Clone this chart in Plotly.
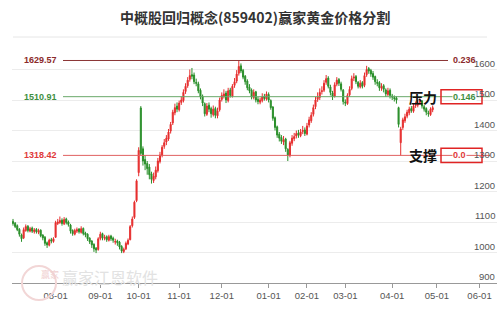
import plotly.graph_objects as go

# ---------------- data ----------------
opens = [1102,1096,1088,1076,1058,1048,1072,1086,1070,1080,
         1068,1076,1066,1073,1057,1050,1032,1024,1042,1036,
         1050,1095,1098,1106,1094,1110,1100,1090,1072,1060,
         1070,1077,1066,1079,1064,1060,1047,1038,1027,1014,
         1010,1046,1062,1046,1052,1040,1054,1047,1034,1038,
         1034,1020,1003,1012,1028,1042,1088,1115,1170,1262,
         1474,1340,1305,1292,1280,1258,1236,1248,1268,1298,
         1318,1348,1362,1372,1398,1425,1458,1480,1468,1492,
         1498,1528,1547,1568,1583,1582,1558,1553,1532,1512,
         1488,1453,1483,1472,1452,1472,1448,1468,1502,1512,
         1523,1498,1533,1512,1548,1562,1588,1612,1597,1578,
         1562,1542,1532,1508,1527,1502,1493,1498,1512,1503,
         1518,1498,1477,1442,1412,1388,1377,1362,1372,1338,
         1318,1358,1373,1382,1392,1383,1397,1402,1388,1418,
         1432,1453,1478,1502,1508,1528,1532,1558,1572,1543,
         1523,1512,1552,1567,1553,1532,1493,1488,1517,1538,
         1572,1577,1558,1543,1557,1548,1583,1603,1597,1587,
         1577,1558,1557,1538,1547,1533,1518,1532,1513,1508,
         1507,1475,1360,1410,1432,1447,1458,1472,1463,1482,
         1483,1492,1497,1478,1472,1458,1452,1468]
highs = [1110,1100,1092,1080,1062,1082,1092,1090,1084,1085,
         1080,1080,1078,1076,1060,1054,1036,1045,1048,1050,
         1104,1110,1118,1112,1116,1114,1105,1094,1076,1078,
         1082,1080,1086,1082,1068,1063,1050,1040,1030,1018,
         1050,1068,1065,1058,1056,1058,1058,1052,1045,1042,
         1038,1024,1016,1036,1046,1090,1118,1170,1240,1345,
         1480,1348,1318,1300,1290,1265,1262,1282,1310,1330,
         1352,1372,1385,1405,1428,1468,1488,1492,1498,1512,
         1535,1555,1575,1600,1605,1590,1570,1560,1538,1518,
         1492,1490,1492,1478,1482,1478,1475,1508,1525,1535,
         1530,1540,1540,1552,1572,1598,1630,1620,1602,1582,
         1568,1552,1538,1535,1530,1510,1508,1522,1520,1528,
         1525,1502,1480,1446,1416,1395,1385,1382,1376,1342,
         1366,1385,1392,1400,1402,1405,1415,1410,1425,1445,
         1460,1485,1510,1525,1538,1545,1565,1582,1578,1550,
         1530,1558,1575,1572,1560,1536,1502,1522,1545,1580,
         1588,1582,1562,1565,1562,1590,1612,1608,1602,1595,
         1580,1568,1562,1555,1552,1538,1540,1538,1520,1515,
         1512,1478,1412,1442,1455,1468,1478,1480,1488,1495,
         1500,1505,1500,1484,1476,1465,1476,1482]
lows = [1088,1080,1070,1052,1035,1044,1068,1066,1066,1064,
        1062,1062,1060,1050,1040,1022,1015,1020,1030,1032,
        1048,1090,1094,1088,1090,1092,1085,1062,1055,1056,
        1064,1062,1062,1056,1050,1038,1028,1015,1002,998,
        1006,1040,1040,1040,1035,1036,1038,1032,1026,1022,
        1010,998,998,1008,1024,1040,1082,1110,1165,1250,
        1318,1285,1270,1255,1240,1226,1228,1240,1262,1292,
        1312,1340,1352,1366,1390,1418,1450,1460,1462,1484,
        1492,1520,1540,1560,1568,1552,1545,1522,1502,1480,
        1446,1448,1460,1442,1446,1440,1440,1462,1495,1505,
        1490,1492,1508,1508,1540,1555,1580,1588,1568,1550,
        1532,1522,1502,1502,1492,1486,1486,1492,1498,1498,
        1492,1468,1432,1400,1376,1364,1356,1352,1330,1300,
        1312,1350,1365,1374,1376,1378,1388,1382,1384,1410,
        1425,1446,1470,1494,1500,1518,1526,1550,1538,1515,
        1500,1508,1545,1546,1528,1485,1480,1484,1510,1532,
        1562,1552,1538,1538,1538,1542,1576,1586,1576,1566,
        1550,1545,1530,1530,1525,1510,1512,1505,1500,1495,
        1488,1410,1318,1402,1425,1440,1450,1458,1458,1474,
        1476,1484,1472,1462,1450,1445,1448,1460]
closes = [1095,1085,1075,1060,1045,1075,1085,1072,1078,1070,
          1074,1068,1072,1055,1048,1030,1025,1040,1038,1045,
          1098,1100,1105,1095,1108,1098,1092,1070,1062,1072,
          1075,1068,1078,1062,1058,1045,1035,1025,1012,1008,
          1045,1060,1048,1050,1042,1052,1045,1040,1036,1032,
          1018,1005,1010,1030,1040,1085,1110,1165,1235,1335,
          1325,1300,1290,1275,1255,1240,1250,1270,1300,1320,
          1345,1360,1375,1395,1420,1460,1475,1470,1490,1500,
          1525,1545,1565,1580,1578,1560,1555,1530,1510,1490,
          1455,1480,1470,1455,1470,1450,1465,1500,1515,1520,
          1500,1530,1515,1545,1560,1585,1610,1595,1575,1560,
          1540,1530,1510,1525,1500,1495,1500,1510,1505,1520,
          1500,1475,1440,1410,1385,1375,1365,1370,1340,1320,
          1360,1375,1380,1390,1385,1395,1400,1390,1415,1435,
          1450,1475,1500,1510,1525,1530,1555,1570,1545,1525,
          1510,1550,1565,1555,1535,1495,1490,1515,1535,1570,
          1575,1560,1545,1555,1545,1580,1600,1595,1585,1575,
          1560,1555,1540,1545,1535,1520,1530,1515,1510,1505,
          1500,1420,1405,1435,1445,1460,1470,1465,1480,1485,
          1490,1495,1480,1470,1460,1455,1470,1475]

# trading-day positions of month starts and their labels
tick_pos = [20, 41, 59, 78, 98, 120, 138, 156, 178, 199, 219]
tick_text = ["08-01", "09-01", "10-01", "11-01", "12-01", "01-01",
             "02-01", "03-01", "04-01", "05-01", "06-01"]
y_ticks = [900, 1000, 1100, 1200, 1300, 1400, 1500, 1600]

# golden-section levels
levels = [1629.57, 1510.91, 1318.42]
level_labels = ["1629.57", "1510.91", "1318.42"]
ratio_labels = ["0.236", "0.146", "0.0"]
level_colors = ["#8b2a2a", "#3f8f3f", "#e03a3a"]
line_colors = ["#8b3535", "#6aa86a", "#e06060"]
side_words = {1: "压力", 2: "支撑"}

title = "中概股回归概念(859402)赢家黄金价格分割"

# ---------------- figure ----------------
W, H = 499, 309
ML, MR, MT, MB = 12, 2, 57, 26
PW = W - ML - MR
PH = H - MT - MB

def px(xp):
    return (xp - ML) / PW

def py(yp):
    return (H - MB - yp) / PH

fig = go.Figure()
fig.add_trace(go.Candlestick(
    x=list(range(len(closes))), open=opens, high=highs, low=lows, close=closes,
    increasing=dict(line=dict(color="#e62e2e", width=1), fillcolor="#e62e2e"),
    decreasing=dict(line=dict(color="#2a8f2a", width=1), fillcolor="#2a8f2a"),
    whiskerwidth=0, showlegend=False, hoverinfo="skip",
))

shapes = []
annotations = []

# separator under title
shapes.append(dict(type="line", xref="paper", yref="paper",
                   x0=px(13), x1=px(487), y0=py(37), y1=py(37),
                   line=dict(color="#e6e6e6", width=1)))

# y-axis labels drawn inside, right-aligned, just above each grid line
for v in y_ticks:
    annotations.append(dict(xref="paper", yref="y", x=px(497), y=v, text=str(v),
                            showarrow=False, xanchor="right", yanchor="bottom", yshift=-1,
                            font=dict(family="Liberation Sans", size=9.5, color="#555")))

lab_font = "Liberation Sans"
for k, (lv, lab, rl, lc, lnc) in enumerate(zip(levels, level_labels, ratio_labels,
                                                level_colors, line_colors)):
    x_end = 448 if k == 0 else 490
    shapes.append(dict(type="line", xref="paper", yref="y",
                       x0=px(63), x1=px(x_end), y0=lv, y1=lv,
                       line=dict(color=lnc, width=1)))
    annotations.append(dict(xref="paper", yref="y", x=px(59), y=lv, text="<b>" + lab + "</b>",
                            showarrow=False, xanchor="right", yanchor="middle",
                            font=dict(family=lab_font, size=9, color=lc)))
    if k == 0:
        annotations.append(dict(xref="paper", yref="y", x=px(451), y=lv, text="<b>" + rl + "</b>",
                                showarrow=False, xanchor="left", yanchor="middle",
                                font=dict(family=lab_font, size=9, color=lc)))
    else:
        shapes.append(dict(type="rect", xref="paper", yref="y",
                           x0=px(441), x1=px(482), y0=lv - 23, y1=lv + 23,
                           line=dict(color="#e02424", width=1.5), fillcolor="rgba(0,0,0,0)"))
        annotations.append(dict(xref="paper", yref="y", x=px(452), y=lv, text="<b>" + rl + "</b>",
                                showarrow=False, xanchor="left", yanchor="middle",
                                bgcolor="white", borderpad=0,
                                font=dict(family=lab_font, size=9, color=lc)))
        annotations.append(dict(xref="paper", yref="y", x=px(423), y=lv, text="<b>" + side_words[k] + "</b>",
                                showarrow=False, xanchor="center", yanchor="middle",
                                font=dict(family="Noto Sans CJK SC", size=14, color="#111")))

# title
annotations.append(dict(xref="paper", yref="paper", x=0.5, y=py(17), text="<b>" + title + "</b>",
                        showarrow=False, xanchor="center", yanchor="middle",
                        font=dict(family="Noto Sans CJK SC", size=14, color="#333")))

# watermark
shapes.append(dict(type="circle", xref="paper", yref="paper",
                   x0=px(22), x1=px(56), y0=py(300), y1=py(266),
                   line=dict(color="#f2d6d6", width=2), fillcolor="rgba(0,0,0,0)"))
annotations.append(dict(xref="paper", yref="paper", x=px(39), y=py(283), text="赢家",
                        showarrow=False, font=dict(family="Noto Sans CJK SC", size=9, color="#f0d0d0")))
annotations.append(dict(xref="paper", yref="paper", x=px(60), y=py(277), text="赢家江恩软件",
                        showarrow=False, xanchor="left", yanchor="middle",
                        font=dict(family="Noto Sans CJK SC", size=16, color="#e2e2e2")))

fig.update_layout(
    width=W, height=H,
    margin=dict(l=ML, r=MR, t=MT, b=MB),
    paper_bgcolor="white", plot_bgcolor="white",
    shapes=shapes, annotations=annotations,
    xaxis=dict(range=[-0.47, 227.2], tickvals=tick_pos, ticktext=tick_text,
               showgrid=False, zeroline=False, rangeslider=dict(visible=False),
               showline=True, linecolor="#999", linewidth=1,
               ticks="outside", ticklen=4, tickcolor="#999",
               tickfont=dict(family="Liberation Sans", size=9.5, color="#555")),
    yaxis=dict(range=[900, 1641], side="right", tickvals=y_ticks,
               showticklabels=False, showgrid=True, gridcolor="#ececec",
               zeroline=False, showline=False, ticks=""),
)

fig.write_html("out.html")
